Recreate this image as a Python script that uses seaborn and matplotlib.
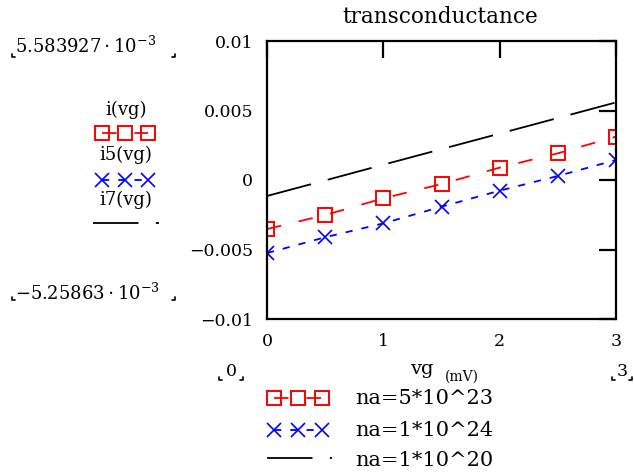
import matplotlib
matplotlib.use("Agg")
import matplotlib.pyplot as plt
from matplotlib.lines import Line2D
import seaborn as sns
import pandas as pd

# ---- data ----
vg = [0, 0.5, 1, 1.5, 2, 2.5, 3]
i_vg = [-0.00353, -0.00252, -0.00132, -0.00029, 0.00089, 0.00192, 0.00312]
i5_vg = [-0.005259, -0.00412, -0.00312, -0.00192, -0.00077, 0.00029, 0.00144]
i7_vg = [-0.00115, -0.00003, 0.00110, 0.00222, 0.00334, 0.00446, 0.005584]
series_names = ["i(vg)", "i5(vg)", "i7(vg)"]
legend_labels = ["na=5*10^23", "na=1*10^24", "na=1*10^20"]
xticks = [0, 1, 2, 3]
xtick_labels = ["0", "1", "2", "3"]
yticks = [0.01, 0.005, 0, -0.005, -0.01]
ytick_labels = ["0.01", "0.005", "0", "\u22120.005", "\u22120.01"]
title = "transconductance"
ymax_text = r"$5.583927\cdot10^{-3}$"
ymin_text = r"$-5.25863\cdot10^{-3}$"

sns.set_style("white")
plt.rcParams["font.family"] = ["DejaVu Serif", "DejaVu Sans"]
plt.rcParams["mathtext.fontset"] = "dejavuserif"
plt.rcParams["text.color"] = "black"
plt.rcParams["xtick.color"] = "black"
plt.rcParams["ytick.color"] = "black"
plt.rcParams["axes.labelcolor"] = "black"

W, H = 634, 474
fig = plt.figure(figsize=(W / 100, H / 100), dpi=100)


def fx(px):
    return px / W


def fy(py):
    return 1 - py / H


ax = fig.add_axes([fx(267), fy(319), fx(616) - fx(267), fy(41) - fy(319)])

df = pd.DataFrame({"vg": vg, "i": i_vg, "i5": i5_vg, "i7": i7_vg})

styles = {
    "i": dict(color="#ff0000", marker="s", markersize=10, markerfacecolor="none",
              markeredgecolor="#ff0000", markeredgewidth=1.4,
              linestyle=(0, (8, 10)), linewidth=1.3),
    "i5": dict(color="#0000ff", marker="x", markersize=10,
               markeredgecolor="#0000ff", markeredgewidth=1.2,
               linestyle=(0, (4, 5)), linewidth=1.3),
    "i7": dict(color="black", linestyle=(0, (25.2, 9.6)), linewidth=1.3),
}

for key in ["i", "i5", "i7"]:
    sns.lineplot(data=df, x="vg", y=key, ax=ax, **styles[key])

ax.set_xlim(0, 3)
ax.set_ylim(-0.01, 0.01)
ax.set_xticks(xticks)
ax.set_xticklabels(xtick_labels, fontsize=12.5)
ax.set_yticks(yticks)
ax.set_yticklabels(ytick_labels, fontsize=12.5)
ax.set_xlabel("")
ax.set_ylabel("")
ax.tick_params(axis="both", which="both", direction="in", top=True, right=True,
               length=12, width=1.6, colors="black", pad=10)
for s in ax.spines.values():
    s.set_visible(True)
    s.set_color("black")
    s.set_linewidth(1.6)

fig.text(fx(440), fy(17), title, ha="center", va="center", fontsize=15.5)

# left range labels
fig.text(fx(15), fy(53), ymax_text, ha="left", va="baseline", fontsize=13)
fig.text(fx(15), fy(300), ymin_text, ha="left", va="baseline", fontsize=13)

# bottom range labels
fig.text(fx(231), fy(372), "0", ha="center", va="center", fontsize=12.5)
fig.text(fx(622), fy(372), "3", ha="center", va="center", fontsize=12.5)
fig.text(fx(410), fy(369), "vg", ha="left", va="center", fontsize=14)
fig.text(fx(445), fy(377), "(mV)", ha="left", va="center", fontsize=10)


def corner(px, py, side):
    d = 3
    if side == "l":
        xs, ys = [px, px, px + d], [py - d, py, py]
    else:
        xs, ys = [px - d, px, px], [py, py, py - d]
    fig.add_artist(Line2D([fx(v) for v in xs], [fy(v) for v in ys],
                          transform=fig.transFigure, color="black", lw=1.2))


for (a, b, yy) in [(12, 175, 57), (12, 175, 300), (219, 243, 380), (612, 632, 380)]:
    corner(a, yy, "l")
    corner(b, yy, "r")

# left legend (names above samples)
name_y = [110, 155, 200]
for name, yy in zip(series_names, name_y):
    fig.text(fx(126), fy(yy), name, ha="center", va="center", fontsize=13)

samp = [("i", [102, 125, 148], 133), ("i5", [102, 125, 148], 180)]
for key, xs, yy in samp:
    fig.add_artist(Line2D([fx(v) for v in xs], [fy(yy)] * 3,
                          transform=fig.transFigure, **styles[key]))
fig.add_artist(Line2D([fx(93), fx(159)], [fy(223)] * 2,
                      transform=fig.transFigure, **styles["i7"]))

# bottom legend
bsamp = [("i", [274, 298, 322], 398), ("i5", [274, 298, 322], 430)]
for key, xs, yy in bsamp:
    fig.add_artist(Line2D([fx(v) for v in xs], [fy(yy)] * 3,
                          transform=fig.transFigure, **styles[key]))
fig.add_artist(Line2D([fx(267), fx(332)], [fy(458)] * 2,
                      transform=fig.transFigure, **styles["i7"]))
for lab, yy in zip(legend_labels, [398, 431, 460]):
    fig.text(fx(355), fy(yy), lab, ha="left", va="center", fontsize=15)

fig.savefig("out.png", dpi=100)
